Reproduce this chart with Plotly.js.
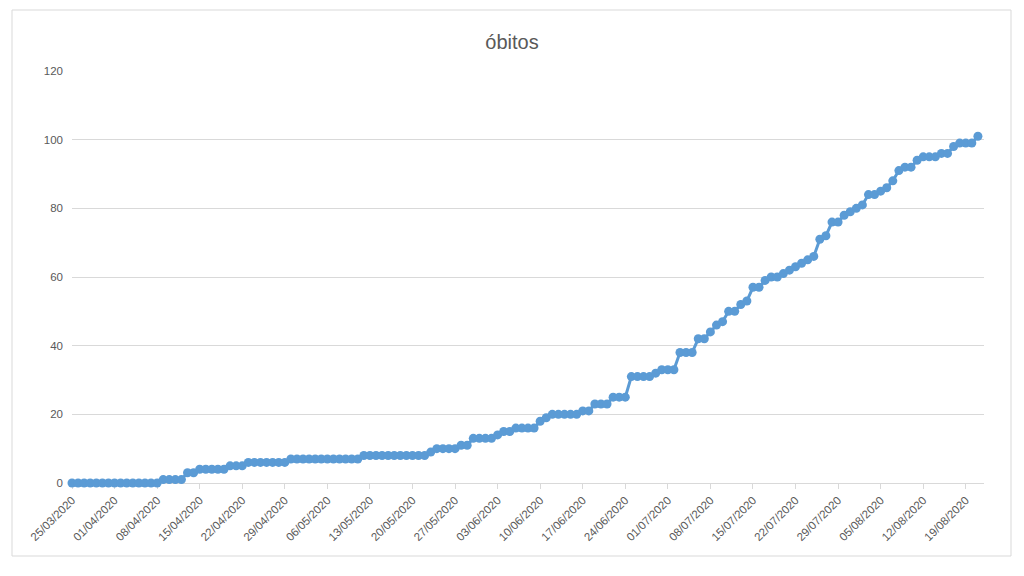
<!DOCTYPE html>
<html>
<head>
<meta charset="utf-8">
<script src="https://cdn.plot.ly/plotly-3.0.1.min.js"></script>
<style>
  html, body { margin: 0; padding: 0; background: #ffffff; }
  #chart { width: 1024px; height: 576px; }
</style>
</head>
<body>
<div id="chart"></div>
<script>
// ---- data ----
const chartTitle = "óbitos";
const startDate = "2020-03-25";   // first daily observation
const obitos = [
  0,0,0,0,0,0,0,0,0,0,0,0,0,0,0,
  1,1,1,1,
  3,3,
  4,4,4,4,4,
  5,5,5,
  6,6,6,6,6,6,6,
  7,7,7,7,7,7,7,7,7,7,7,7,
  8,8,8,8,8,8,8,8,8,8,8,
  9,
  10,10,10,10,
  11,11,
  13,13,13,13,
  14,
  15,15,
  16,16,16,16,
  18,19,
  20,20,20,20,20,
  21,21,
  23,23,23,
  25,25,25,
  31,31,31,31,
  32,
  33,33,33,
  38,38,38,
  42,42,
  44,46,47,
  50,50,
  52,53,
  57,57,
  59,
  60,60,
  61,62,63,64,65,66,
  71,72,
  76,76,
  78,79,80,81,
  84,84,
  85,86,88,91,
  92,92,
  94,
  95,95,95,
  96,96,
  98,
  99,99,99,
  101
];
const tickLabels = [
  "25/03/2020","01/04/2020","08/04/2020","15/04/2020","22/04/2020","29/04/2020",
  "06/05/2020","13/05/2020","20/05/2020","27/05/2020","03/06/2020","10/06/2020",
  "17/06/2020","24/06/2020","01/07/2020","08/07/2020","15/07/2020","22/07/2020",
  "29/07/2020","05/08/2020","12/08/2020","19/08/2020"
];
const yTicks = [0, 20, 40, 60, 80, 100, 120];

// ---- build daily dates (consecutive days, one per observation) ----
function isoDay(d) {
  const y = d.getUTCFullYear();
  const m = String(d.getUTCMonth() + 1).padStart(2, "0");
  const dd = String(d.getUTCDate()).padStart(2, "0");
  return y + "-" + m + "-" + dd;
}
const dates = [];
const base = new Date(startDate + "T00:00:00Z");
for (let i = 0; i < obitos.length; i++) {
  const d = new Date(base.getTime() + i * 86400000);
  dates.push(isoDay(d));
}
const tickVals = tickLabels.map(s => {
  const p = s.split("/");
  return p[2] + "-" + p[1] + "-" + p[0];
});
const lastDate = new Date(base.getTime() + obitos.length * 86400000);

const fontFam = "'Liberation Sans', 'DejaVu Sans', sans-serif";
const grey = "#595959";
const gridC = "#d9d9d9";

const trace = {
  x: dates,
  y: obitos,
  type: "scatter",
  mode: "lines+markers",
  line: { color: "#5b9bd5", width: 3 },
  marker: { color: "#5b9bd5", size: 9 },
  cliponaxis: false,
  hoverinfo: "x+y"
};

// plot area in pixels
const L = 72, R = 984, T = 71, B = 483;
const W = 1024, H = 576;
const pw = R - L, ph = B - T;
function px2paperX(px) { return (px - L) / pw; }
function px2paperY(py) { return (B - py) / ph; }

const layout = {
  width: W,
  height: H,
  margin: { l: L, r: W - R, t: T, b: H - B, pad: 0 },
  paper_bgcolor: "#ffffff",
  plot_bgcolor: "#ffffff",
  showlegend: false,
  title: {
    text: chartTitle,
    font: { family: fontFam, size: 20, color: grey },
    x: 0.5, xref: "container", xanchor: "center",
    y: 1 - 42 / 576, yref: "container", yanchor: "middle"
  },
  xaxis: {
    type: "date",
    range: [startDate, isoDay(lastDate)],
    tickmode: "array",
    tickvals: tickVals,
    ticktext: tickLabels,
    tickangle: -45,
    tickfont: { family: fontFam, size: 11.5, color: grey },
    ticks: "outside",
    ticklen: 5,
    tickcolor: gridC,
    showgrid: false,
    showline: true,
    linecolor: gridC,
    linewidth: 1,
    zeroline: false,
    layer: "below traces",
    fixedrange: true
  },
  yaxis: {
    range: [0, 120],
    tickmode: "array",
    tickvals: yTicks,
    ticktext: yTicks.map(String),
    tickfont: { family: fontFam, size: 11.5, color: grey },
    showgrid: true,
    gridcolor: gridC,
    gridwidth: 1,
    zeroline: false,
    showline: false,
    ticks: "",
    ticklabelstandoff: 8,
    layer: "below traces",
    fixedrange: true
  },
  shapes: [
    {
      type: "rect",
      xref: "paper", yref: "paper",
      x0: px2paperX(12), x1: px2paperX(1011),
      y0: px2paperY(556), y1: px2paperY(10),
      line: { color: gridC, width: 1 },
      fillcolor: "rgba(0,0,0,0)",
      layer: "below"
    }
  ]
};

Plotly.newPlot("chart", [trace], layout, { displayModeBar: false, staticPlot: true });
</script>
</body>
</html>
